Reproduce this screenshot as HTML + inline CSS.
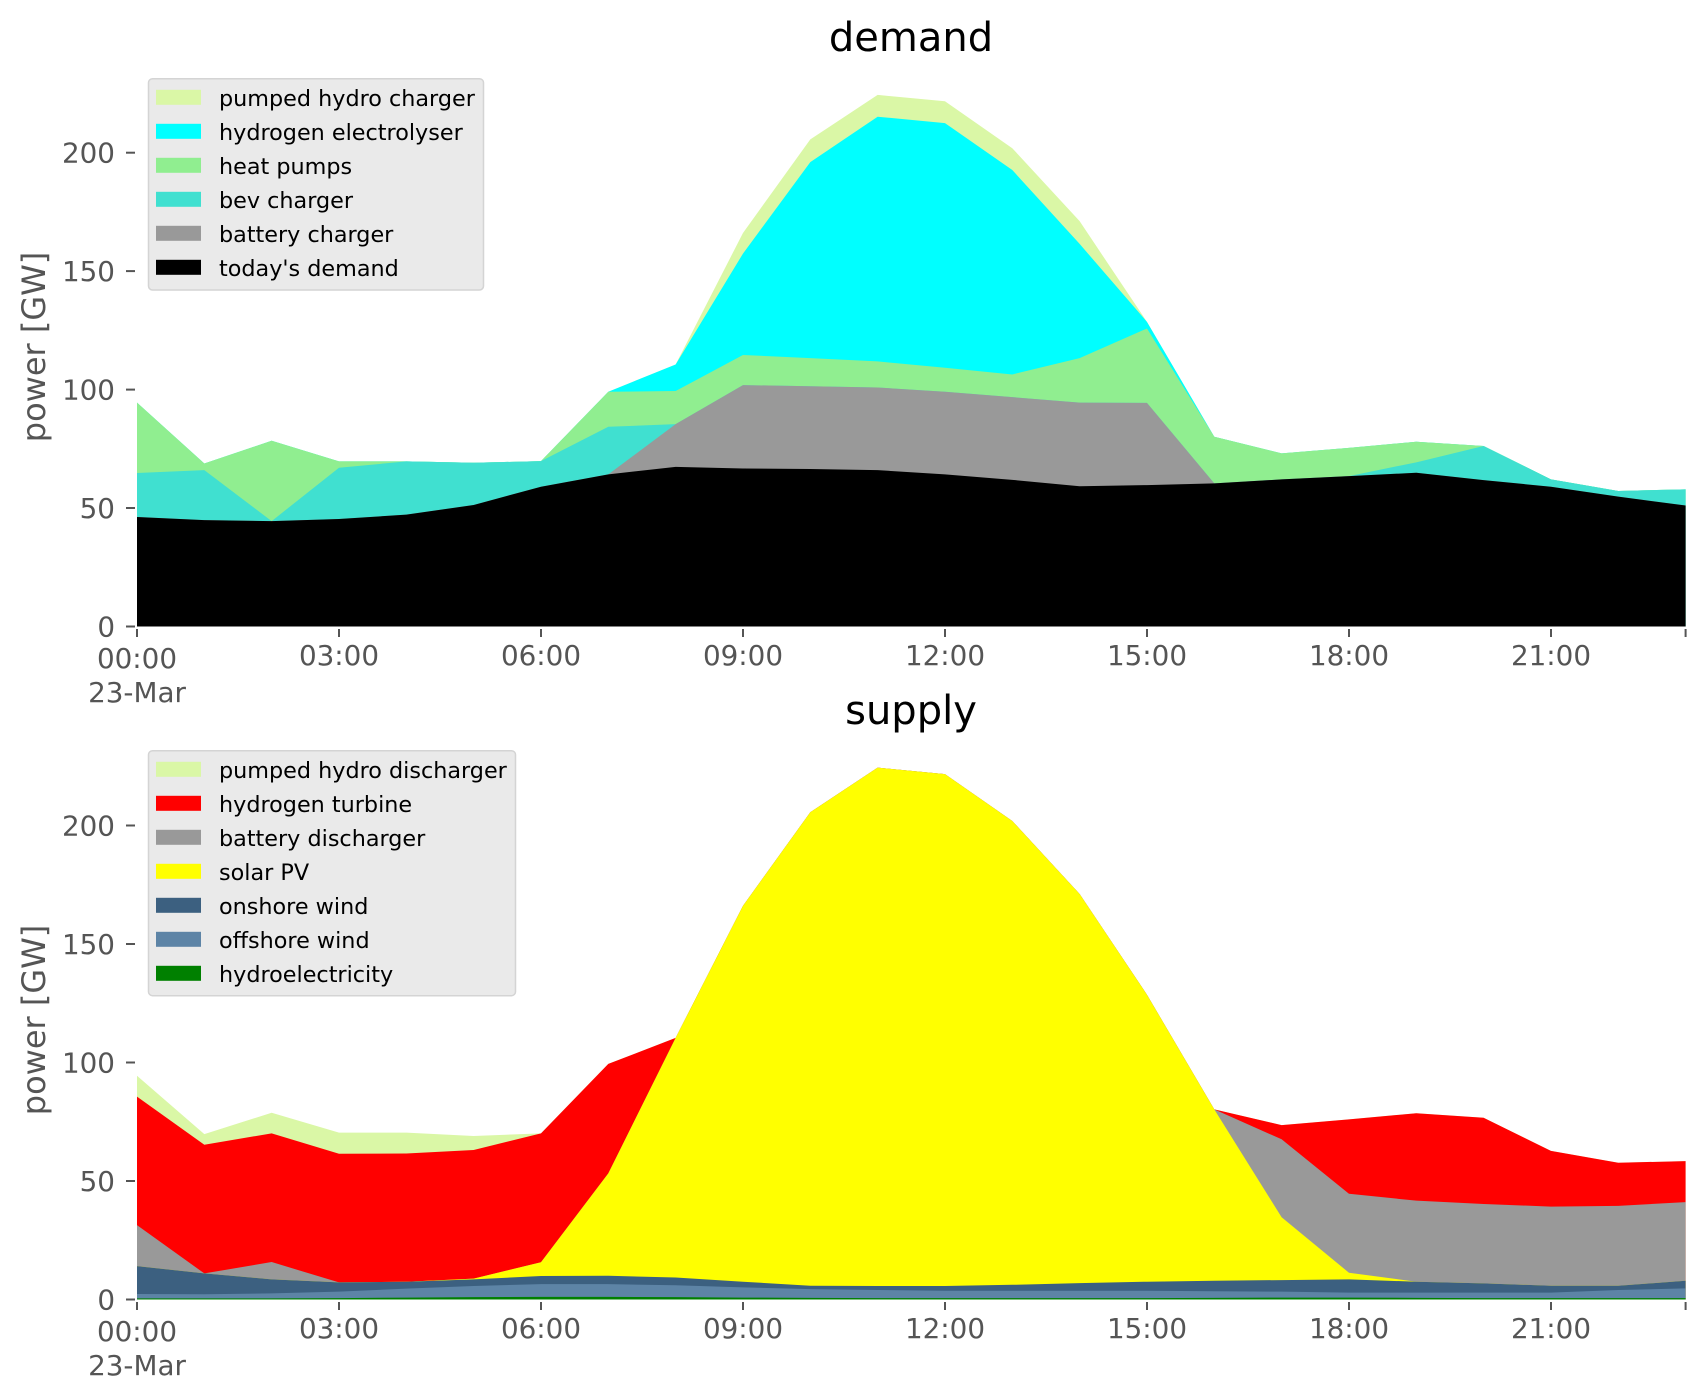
<!DOCTYPE html>
<html>
<head>
<meta charset="utf-8">
<style>
  html,body{margin:0;padding:0;background:#ffffff;}
  body{width:1706px;height:1399px;overflow:hidden;}
  svg{display:block;}
  text{font-family:"DejaVu Sans","Liberation Sans",sans-serif;}
</style>
</head>
<body>
<svg width="1706" height="1399" viewBox="0 0 1706 1399" xmlns="http://www.w3.org/2000/svg">
  <rect x="0" y="0" width="1706" height="1399" fill="#ffffff"/>

  <!-- ================= DEMAND ================= -->
  <text x="911" y="51" font-size="40" text-anchor="middle" fill="#000">demand</text>

  <g transform="translate(137,626.5) scale(67.33,-2.369)">
    <!-- pumped hydro charger -->
    <polygon fill="#daf7a6" points="0,0 0,94.5 1,68.8 2,78.4 3,69.7 4,69.7 5,69.1 6,69.8 7,99.1 8,110.6 9,166.1 10,205.6 11,224.4 12,221.7 13,201.9 14,171.1 15,128.6 16,80.1 17,73.1 18,75.4 19,78.0 20,76.2 21,62.1 22,57.2 23,57.9 23,0"/>
    <!-- hydrogen electrolyser -->
    <polygon fill="#00ffff" points="0,0 0,94.5 1,68.8 2,78.4 3,69.7 4,69.7 5,69.1 6,69.8 7,99.1 8,110.6 9,157.4 10,196.0 11,215.2 12,212.5 13,192.7 14,161.5 15,128.6 16,80.1 17,73.1 18,75.4 19,78.0 20,76.2 21,62.1 22,57.2 23,57.9 23,0"/>
    <!-- heat pumps -->
    <polygon fill="#90ee90" points="0,0 0,94.5 1,68.8 2,78.4 3,69.7 4,69.7 5,69.1 6,69.8 7,99.1 8,99.4 9,114.6 10,113.3 11,111.9 12,109.2 13,106.4 14,113.3 15,125.8 16,80.1 17,73.1 18,75.4 19,78.0 20,76.2 21,62.1 22,57.2 23,57.9 23,0"/>
    <!-- bev charger -->
    <polygon fill="#40e0d0" points="0,0 0,64.8 1,66.0 2,44.5 3,67.0 4,69.7 5,69.1 6,69.8 7,84.3 8,85.4 9,101.9 10,101.4 11,100.9 12,99.1 13,96.8 14,94.5 15,94.4 16,60.4 17,62.1 18,63.5 19,69.3 20,76.2 21,62.1 22,57.2 23,57.9 23,0"/>
    <!-- battery charger -->
    <polygon fill="#999999" points="0,0 0,46.2 1,44.9 2,44.5 3,45.4 4,47.2 5,51.3 6,59.0 7,64.2 8,85.4 9,101.9 10,101.4 11,100.9 12,99.1 13,96.8 14,94.5 15,94.4 16,60.4 17,62.1 18,63.5 19,64.9 20,61.8 21,59.0 22,54.8 23,51.1 23,0"/>
    <!-- today's demand -->
    <polygon fill="#000000" points="0,0 0,46.2 1,44.9 2,44.5 3,45.4 4,47.2 5,51.3 6,59.0 7,64.2 8,67.4 9,66.7 10,66.5 11,66.0 12,64.2 13,61.9 14,59.2 15,59.7 16,60.4 17,62.1 18,63.5 19,64.9 20,61.8 21,59.0 22,54.8 23,51.1 23,0"/>
  </g>

  <!-- demand y ticks -->
  <g stroke="#555555" stroke-width="2">
    <line x1="126" y1="626.5" x2="135" y2="626.5"/>
    <line x1="126" y1="508" x2="135" y2="508"/>
    <line x1="126" y1="389.6" x2="135" y2="389.6"/>
    <line x1="126" y1="271.1" x2="135" y2="271.1"/>
    <line x1="126" y1="152.7" x2="135" y2="152.7"/>
  </g>
  <g font-size="27.8" fill="#555555" text-anchor="end">
    <text x="115" y="636.5">0</text>
    <text x="115" y="518">50</text>
    <text x="115" y="399.6">100</text>
    <text x="115" y="281.1">150</text>
    <text x="115" y="162.7">200</text>
  </g>
  <!-- demand x ticks -->
  <g stroke="#555555" stroke-width="2">
    <line x1="137" y1="629" x2="137" y2="637"/>
    <line x1="339" y1="629" x2="339" y2="637"/>
    <line x1="541" y1="629" x2="541" y2="637"/>
    <line x1="743" y1="629" x2="743" y2="637"/>
    <line x1="945" y1="629" x2="945" y2="637"/>
    <line x1="1147" y1="629" x2="1147" y2="637"/>
    <line x1="1349" y1="629" x2="1349" y2="637"/>
    <line x1="1551" y1="629" x2="1551" y2="637"/>
    <line x1="1685.6" y1="629" x2="1685.6" y2="637"/>
  </g>
  <g font-size="27.8" fill="#555555" text-anchor="middle">
    <text x="137" y="668">00:00</text>
    <text x="137" y="702">23-Mar</text>
    <text x="339" y="665">03:00</text>
    <text x="541" y="665">06:00</text>
    <text x="743" y="665">09:00</text>
    <text x="945" y="665">12:00</text>
    <text x="1147" y="665">15:00</text>
    <text x="1349" y="665">18:00</text>
    <text x="1551" y="665">21:00</text>
  </g>
  <text transform="translate(45,347) rotate(-90)" font-size="32" fill="#555555" text-anchor="middle">power [GW]</text>

  <!-- demand legend -->
  <rect x="148.5" y="78.7" width="335" height="211.3" rx="4" ry="4" fill="#eaeaea" stroke="#d4d4d4" stroke-width="1.5"/>
  <rect x="156" y="89.8" width="45" height="15" fill="#daf7a6"/>
  <rect x="156" y="123.8" width="45" height="15" fill="#00ffff"/>
  <rect x="156" y="157.8" width="45" height="15" fill="#90ee90"/>
  <rect x="156" y="191.8" width="45" height="15" fill="#40e0d0"/>
  <rect x="156" y="225.8" width="45" height="15" fill="#999999"/>
  <rect x="156" y="259.8" width="45" height="15" fill="#000000"/>
  <g font-size="22.3" fill="#000000">
    <text x="219" y="106">pumped hydro charger</text>
    <text x="219" y="140">hydrogen electrolyser</text>
    <text x="219" y="174">heat pumps</text>
    <text x="219" y="208">bev charger</text>
    <text x="219" y="242">battery charger</text>
    <text x="219" y="276">today's demand</text>
  </g>

  <!-- ================= SUPPLY ================= -->
  <text x="911" y="724" font-size="40" text-anchor="middle" fill="#000">supply</text>

  <g transform="translate(137,1299.5) scale(67.33,-2.37)">
    <!-- pumped hydro discharger -->
    <polygon fill="#daf7a6" points="0,0 0,94.4 1,69.8 2,78.8 3,70.4 4,70.4 5,69.0 6,70.1 7,99.4 8,110.4 9,166.1 10,205.6 11,224.4 12,221.7 13,201.9 14,171.1 15,128.6 16,80.2 17,73.6 18,76.0 19,78.6 20,76.7 21,62.7 22,57.7 23,58.4 23,0"/>
    <!-- hydrogen turbine -->
    <polygon fill="#ff0000" points="0,0 0,85.6 1,65.3 2,70.1 3,61.5 4,61.6 5,63.1 6,70.1 7,99.4 8,110.4 9,166.1 10,205.6 11,224.4 12,221.7 13,201.9 14,171.1 15,128.6 16,80.2 17,73.6 18,76.0 19,78.6 20,76.7 21,62.7 22,57.7 23,58.4 23,0"/>
    <!-- battery discharger -->
    <polygon fill="#999999" points="0,0 0,31.4 1,11.0 2,15.8 3,7.2 4,7.5 5,8.8 6,15.7 7,53.2 8,110.4 9,166.1 10,205.6 11,224.4 12,221.7 13,201.9 14,171.1 15,128.6 16,80.2 17,67.6 18,44.6 19,41.7 20,40.3 21,39.2 22,39.5 23,41.1 23,0"/>
    <!-- solar PV -->
    <polygon fill="#ffff00" points="0,0 0,14.1 1,11.0 2,8.5 3,7.2 4,7.5 5,8.8 6,15.7 7,53.2 8,110.4 9,166.1 10,205.6 11,224.4 12,221.7 13,201.9 14,171.1 15,128.6 16,80.2 17,34.7 18,11.3 19,7.5 20,6.8 21,5.8 22,5.8 23,7.9 23,0"/>
    <!-- onshore wind -->
    <polygon fill="#3c6080" points="0,0 0,14.1 1,11.0 2,8.5 3,7.2 4,7.5 5,8.5 6,9.9 7,10.0 8,9.3 9,7.5 10,5.8 11,5.7 12,5.7 13,6.2 14,6.9 15,7.5 16,7.9 17,8.2 18,8.5 19,7.5 20,6.8 21,5.8 22,5.8 23,7.9 23,0"/>
    <!-- offshore wind -->
    <polygon fill="#5d84a6" points="0,0 0,2.3 1,2.2 2,2.6 3,3.3 4,4.6 5,5.7 6,6.5 7,6.5 8,6.0 9,5.1 10,4.4 11,4.0 12,3.7 13,3.7 14,3.7 15,3.7 16,3.5 17,3.3 18,2.9 19,2.9 20,2.9 21,2.9 22,4.0 23,4.7 23,0"/>
    <!-- hydroelectricity -->
    <polygon fill="#008000" points="0,0 0,0.5 1,0.5 2,0.5 3,0.6 4,0.8 5,1.0 6,1.1 7,1.1 8,1.0 9,0.8 10,0.7 11,0.6 12,0.6 13,0.6 14,0.6 15,0.6 16,0.7 17,0.8 18,0.8 19,0.7 20,0.6 21,0.6 22,0.6 23,0.6 23,0"/>
  </g>

  <!-- supply y ticks -->
  <g stroke="#555555" stroke-width="2">
    <line x1="126" y1="1299.5" x2="135" y2="1299.5"/>
    <line x1="126" y1="1181" x2="135" y2="1181"/>
    <line x1="126" y1="1062.5" x2="135" y2="1062.5"/>
    <line x1="126" y1="944" x2="135" y2="944"/>
    <line x1="126" y1="825.5" x2="135" y2="825.5"/>
  </g>
  <g font-size="27.8" fill="#555555" text-anchor="end">
    <text x="115" y="1309.5">0</text>
    <text x="115" y="1191">50</text>
    <text x="115" y="1072.5">100</text>
    <text x="115" y="954">150</text>
    <text x="115" y="835.5">200</text>
  </g>
  <!-- supply x ticks -->
  <g stroke="#555555" stroke-width="2">
    <line x1="137" y1="1302" x2="137" y2="1310"/>
    <line x1="339" y1="1302" x2="339" y2="1310"/>
    <line x1="541" y1="1302" x2="541" y2="1310"/>
    <line x1="743" y1="1302" x2="743" y2="1310"/>
    <line x1="945" y1="1302" x2="945" y2="1310"/>
    <line x1="1147" y1="1302" x2="1147" y2="1310"/>
    <line x1="1349" y1="1302" x2="1349" y2="1310"/>
    <line x1="1551" y1="1302" x2="1551" y2="1310"/>
    <line x1="1685.6" y1="1302" x2="1685.6" y2="1310"/>
  </g>
  <g font-size="27.8" fill="#555555" text-anchor="middle">
    <text x="137" y="1341">00:00</text>
    <text x="137" y="1375">23-Mar</text>
    <text x="339" y="1338">03:00</text>
    <text x="541" y="1338">06:00</text>
    <text x="743" y="1338">09:00</text>
    <text x="945" y="1338">12:00</text>
    <text x="1147" y="1338">15:00</text>
    <text x="1349" y="1338">18:00</text>
    <text x="1551" y="1338">21:00</text>
  </g>
  <text transform="translate(45,1020) rotate(-90)" font-size="32" fill="#555555" text-anchor="middle">power [GW]</text>

  <!-- supply legend -->
  <rect x="148.5" y="750.7" width="367" height="245" rx="4" ry="4" fill="#eaeaea" stroke="#d4d4d4" stroke-width="1.5"/>
  <rect x="156" y="761.8" width="45" height="15" fill="#daf7a6"/>
  <rect x="156" y="795.8" width="45" height="15" fill="#ff0000"/>
  <rect x="156" y="829.8" width="45" height="15" fill="#999999"/>
  <rect x="156" y="863.8" width="45" height="15" fill="#ffff00"/>
  <rect x="156" y="897.8" width="45" height="15" fill="#3c6080"/>
  <rect x="156" y="931.8" width="45" height="15" fill="#5d84a6"/>
  <rect x="156" y="965.8" width="45" height="15" fill="#008000"/>
  <g font-size="22.3" fill="#000000">
    <text x="219" y="778">pumped hydro discharger</text>
    <text x="219" y="812">hydrogen turbine</text>
    <text x="219" y="846">battery discharger</text>
    <text x="219" y="880">solar PV</text>
    <text x="219" y="914">onshore wind</text>
    <text x="219" y="948">offshore wind</text>
    <text x="219" y="982">hydroelectricity</text>
  </g>
</svg>
</body>
</html>
